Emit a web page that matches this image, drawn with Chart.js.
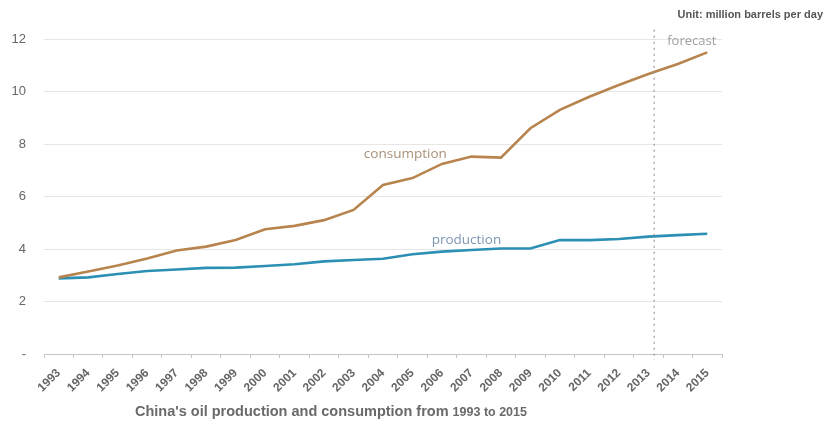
<!DOCTYPE html>
<html>
<head>
<meta charset="utf-8">
<script src="https://cdn.jsdelivr.net/npm/chart.js@4"></script>
<style>
  html, body { margin: 0; padding: 0; background: #fff; }
  #wrap { width: 827px; height: 425px; position: relative; }
</style>
</head>
<body>
<div id="wrap"><canvas id="oilChart"></canvas></div>
<script>
// Chart data
const years = ['1993', '1994', '1995', '1996', '1997', '1998', '1999', '2000', '2001', '2002', '2003', '2004',
  '2005', '2006', '2007', '2008', '2009', '2010', '2011', '2012', '2013', '2014', '2015'];
const consumption = [2.92, 3.14, 3.37, 3.64, 3.94, 4.09, 4.34, 4.75, 4.88, 5.1, 5.49, 6.44,
  6.7, 7.24, 7.52, 7.48, 8.6, 9.3, 9.8, 10.25, 10.67, 11.05, 11.49];
const production = [2.88, 2.92, 3.05, 3.16, 3.22, 3.28, 3.29, 3.35, 3.42, 3.53, 3.58, 3.63,
  3.8, 3.9, 3.96, 4.02, 4.02, 4.34, 4.34, 4.38, 4.47, 4.53, 4.58];
const yTicks = [0, 2, 4, 6, 8, 10, 12];
const forecastAt = 20.2; // category index where the forecast line sits (just after 2013)

const textColor = '#666';

// Dashed forecast line + text labels
const annotations = {
  id: 'annotations',
  afterDatasetsDraw(chart) {
    const { ctx, scales: { x, y } } = chart;
    ctx.save();

    // forecast divider
    const fx = x.getPixelForValue(0) + forecastAt * (x.getPixelForValue(1) - x.getPixelForValue(0));
    ctx.strokeStyle = '#9a9a9a';
    ctx.lineWidth = 1.2;
    ctx.setLineDash([2, 4]);
    ctx.beginPath();
    ctx.moveTo(fx, y.getPixelForValue(12.35));
    ctx.lineTo(fx, y.getPixelForValue(0) + 6);
    ctx.stroke();
    ctx.setLineDash([]);

    ctx.textBaseline = 'middle';
    ctx.font = '13px "Open Sans", sans-serif';
    ctx.fillStyle = '#a0a0a0';
    ctx.textAlign = 'left';
    ctx.fillText('forecast', fx + 13, y.getPixelForValue(11.92));

    ctx.font = '13.5px "Open Sans", sans-serif';
    ctx.fillStyle = '#a89078';
    ctx.fillText('consumption', x.getPixelForValue(10.35), y.getPixelForValue(7.62));
    ctx.fillStyle = '#7c95b3';
    ctx.fillText('production', x.getPixelForValue(12.65), y.getPixelForValue(4.33));

    ctx.font = 'bold 11px "Liberation Sans", sans-serif';
    ctx.fillStyle = '#555';
    ctx.textAlign = 'right';
    ctx.fillText('Unit: million barrels per day', 823, 15);

    ctx.font = 'bold 14.5px "Liberation Sans", sans-serif';
    ctx.fillStyle = '#6a6a6a';
    ctx.textAlign = 'left';
    const cap1 = "China's oil production and consumption from ";
    ctx.fillText(cap1, 135, 412);
    const w1 = ctx.measureText(cap1).width;
    ctx.font = 'bold 12.5px "Liberation Sans Narrow", "Liberation Sans", sans-serif';
    ctx.fillText('1993 to 2015', 135 + w1, 413);
    ctx.restore();
  }
};

new Chart(document.getElementById('oilChart'), {
  type: 'line',
  data: {
    labels: years,
    datasets: [
      {
        label: 'consumption',
        data: consumption,
        borderColor: '#b8844e',
        borderWidth: 2.6,
        pointRadius: 0,
        tension: 0
      },
      {
        label: 'production',
        data: production,
        borderColor: '#2c8fb4',
        borderWidth: 2.6,
        pointRadius: 0,
        tension: 0
      }
    ]
  },
  options: {
    responsive: true,
    maintainAspectRatio: false,
    animation: false,
    layout: { padding: { top: 39, right: 105, left: 0, bottom: 0 } },
    plugins: {
      legend: { display: false },
      tooltip: { enabled: false }
    },
    scales: {
      x: {
        offset: true,
        grid: {
          offset: true,
          drawOnChartArea: false,
          drawTicks: true,
          tickLength: 4,
          color: '#c4c4c4'
        },
        border: { color: '#c4c4c4' },
        ticks: {
          color: textColor,
          font: { family: '"Liberation Sans", sans-serif', size: 12, weight: 'bold' },
          minRotation: 45,
          maxRotation: 45,
          autoSkip: false,
          padding: 8
        },
        afterFit(scale) { scale.height = 71; }
      },
      y: {
        min: 0,
        max: 12,
        afterBuildTicks(scale) { scale.ticks = yTicks.map(v => ({ value: v })); },
        grid: {
          color: ctx => ctx.tick && ctx.tick.value === 0 ? 'rgba(0,0,0,0)' : '#e6e6e6',
          drawTicks: false
        },
        border: { display: false },
        ticks: {
          color: textColor,
          padding: 18,
          font: { family: '"Liberation Sans", sans-serif', size: 13 },
          callback: v => v === 0 ? '-' : v
        },
        afterFit(scale) { scale.width = 44; }
      }
    }
  },
  plugins: [annotations]
});
</script>
</body>
</html>
